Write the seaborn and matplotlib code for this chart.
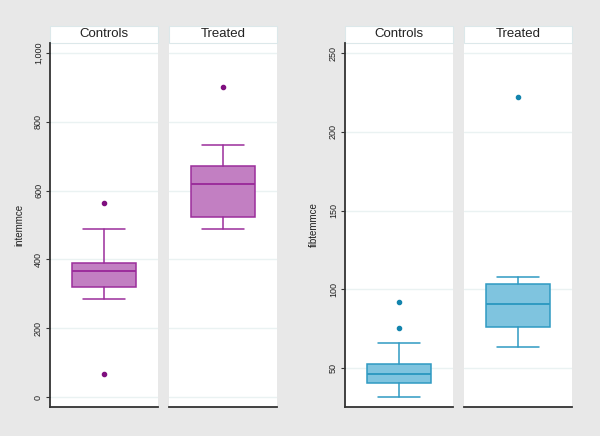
import matplotlib
matplotlib.use("Agg")
import matplotlib.pyplot as plt
import seaborn as sns
from matplotlib.patches import Rectangle
from matplotlib.ticker import FuncFormatter

sns.set_theme(style="white")
plt.rcParams['font.family'] = ['Liberation Sans', 'DejaVu Sans']

# Summary statistics (Controls, Treated)
groups = ['Controls', 'Treated']

intem_q1 = [319, 524]
intem_med = [365, 619]
intem_q3 = [389, 671]
intem_lo = [285, 488]
intem_hi = [487, 733]
intem_out = [[565, 67], [900]]

fibtem_q1 = [40, 76]
fibtem_med = [46, 90.5]
fibtem_q3 = [52.6, 103.5]
fibtem_lo = [31.5, 63.4]
fibtem_hi = [66, 108]
fibtem_out = [[75, 91.8], [222]]

intem_ticks = [0, 200, 400, 600, 800, 1000]
fibtem_ticks = [50, 100, 150, 200, 250]

BG = '#e8e8e8'
PURPLE_FILL, PURPLE_EDGE, PURPLE_DOT = '#c27fc2', '#9b2d9b', '#7f0f7f'
BLUE_FILL, BLUE_EDGE, BLUE_DOT = '#7fc4df', '#2f9ac2', '#1384ad'


def make_stats(q1, med, q3, lo, hi, out):
    return [dict(q1=q1[i], med=med[i], q3=q3[i], whislo=lo[i], whishi=hi[i],
                 fliers=out[i], label=groups[i]) for i in range(len(groups))]


def draw_panel(fig, lefts, stats, ticks, ylim, ylabel, fill, edge, dot, label_x):
    bottom, height, width = 0.0665, 0.8349, 0.18
    axes = []
    for i, left in enumerate(lefts):
        ax = fig.add_axes([left, bottom, width, height])
        ax.set_facecolor('white')
        ax.bxp([stats[i]], positions=[0], widths=0.59, capwidths=0.39,
               patch_artist=True, showfliers=True,
               boxprops=dict(facecolor=fill, edgecolor=edge, linewidth=1.1),
               medianprops=dict(color=edge, linewidth=1.4),
               whiskerprops=dict(color=edge, linewidth=1.1),
               capprops=dict(color=edge, linewidth=1.1),
               flierprops=dict(marker='o', markerfacecolor=dot,
                               markeredgecolor=dot, markersize=3))
        ax.set_xlim(-0.5, 0.5)
        ax.set_ylim(*ylim)
        ax.set_xticks([])
        ax.set_yticks(ticks)
        ax.yaxis.grid(True, color='#eaf2f2', linewidth=1)
        ax.set_axisbelow(True)
        for side in ['top', 'right', 'left']:
            ax.spines[side].set_visible(False)
        ax.spines['bottom'].set_color('#333333')
        ax.spines['bottom'].set_linewidth(1.3)
        # facet header strip
        ax.add_patch(Rectangle((0, 1.0), 1, 0.047, transform=ax.transAxes,
                               facecolor='white', edgecolor='#dce8ea',
                               linewidth=0.8, clip_on=False))
        ax.text(0.5, 1.0235, groups[i], transform=ax.transAxes,
                ha='center', va='center', fontsize=9.5, color='#222222')
        if i == 0:
            ax.spines['left'].set_visible(True)
            ax.spines['left'].set_color('#333333')
            ax.spines['left'].set_linewidth(1.3)
            ax.tick_params(axis='y', left=True, length=3, width=0.8,
                           color='#333333', labelsize=6.5, pad=2,
                           labelcolor='#222222')
            ax.yaxis.set_major_formatter(FuncFormatter(lambda v, p: f'{int(v):,}'))
            for lab in ax.get_yticklabels():
                lab.set_rotation(90)
                lab.set_va('center')
        else:
            ax.tick_params(axis='y', left=False, labelleft=False)
        axes.append(ax)
    fig.text(label_x, bottom + height / 2, ylabel, rotation=90,
             ha='center', va='center', fontsize=7, color='#222222')
    return axes


fig = plt.figure(figsize=(6, 4.36), dpi=100)
fig.patch.set_facecolor(BG)

draw_panel(fig, [0.0833, 0.2817],
           make_stats(intem_q1, intem_med, intem_q3, intem_lo, intem_hi, intem_out),
           intem_ticks, (-29, 1029), 'intemmce',
           PURPLE_FILL, PURPLE_EDGE, PURPLE_DOT, 0.033)
draw_panel(fig, [0.575, 0.7733],
           make_stats(fibtem_q1, fibtem_med, fibtem_q3, fibtem_lo, fibtem_hi, fibtem_out),
           fibtem_ticks, (25, 256.6), 'fibtemmce',
           BLUE_FILL, BLUE_EDGE, BLUE_DOT, 0.523)

fig.savefig('out.png', dpi=100, facecolor=BG)
